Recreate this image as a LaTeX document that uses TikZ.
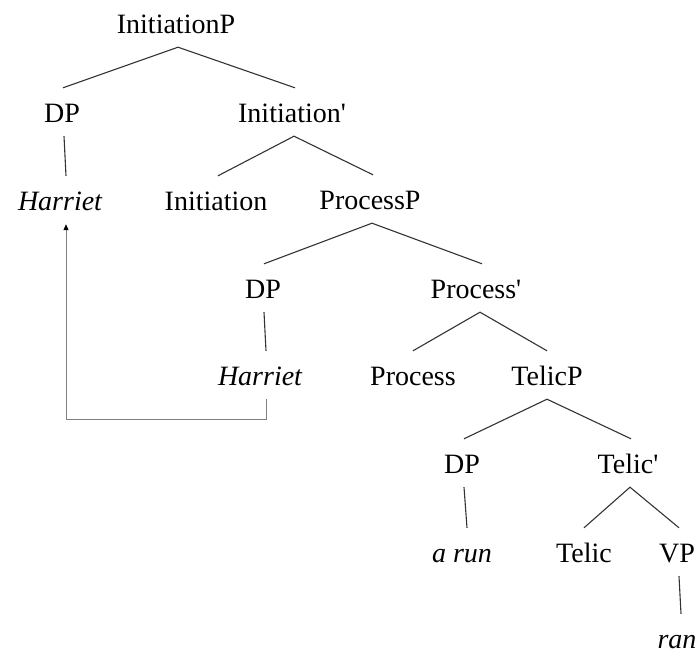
\documentclass[tikz,border=0pt]{standalone}
\usepackage{fontspec}
\setmainfont{Liberation Serif}
\usetikzlibrary{arrows.meta}
\begin{document}
\begin{tikzpicture}[x=1pt,y=-1pt,
  lbl/.style={anchor=base,inner xsep=0pt,inner ysep=8pt,text height=26pt,text depth=6pt,
    font=\fontsize{28}{32}\selectfont},
  br/.style={line width=1.1pt,draw=black!80},
  mv/.style={line width=1pt,draw=black!50,-{Triangle[length=6pt,width=5pt,color=black]}}]
\useasboundingbox (0,0) rectangle (699,653);
\node[lbl] (ip)    at (176,33)  {InitiationP};
\node[lbl] (dp1)   at (62,122)  {DP};
\node[lbl] (ib)    at (292,122) {Initiation\textquotesingle};
\node[lbl] (h1)    at (60,210)  {\itshape Harriet};
\node[lbl] (init)  at (216,210) {Initiation};
\node[lbl] (pp)    at (370,209) {ProcessP};
\node[lbl] (dp2)   at (263,298) {DP};
\node[lbl] (pb)    at (476,298) {Process\textquotesingle};
\node[lbl] (h2)    at (260,385) {\itshape Harriet};
\node[lbl] (proc)  at (413,385) {Process};
\node[lbl] (tp)    at (547,385) {TelicP};
\node[lbl] (dp3)   at (462,473) {DP};
\node[lbl] (tb)    at (628,473) {Telic\textquotesingle};
\node[lbl] (arun)  at (462,562) {\itshape a run};
\node[lbl] (telic) at (584,562) {Telic};
\node[lbl] (vp)    at (677,562) {VP};
\node[lbl] (ran)   at (677,648) {\itshape ran};

\draw[br] ([xshift=1pt]dp1.north) -- ([xshift=2pt]ip.south) -- ([xshift=3pt]ib.north);
\draw[br] ([xshift=2pt]dp1.south) -- ([xshift=6pt]h1.north);
\draw[br] ([xshift=2pt]init.north) -- ([xshift=2pt]ib.south) -- ([xshift=3pt]pp.north);
\draw[br] ([xshift=1pt]dp2.north) -- ([xshift=2pt]pp.south) -- ([xshift=6pt]pb.north);
\draw[br] ([xshift=1pt]dp2.south) -- ([xshift=6pt]h2.north);
\draw[br] (proc.north) -- ([xshift=4pt]pb.south) -- (tp.north);
\draw[br] ([xshift=2pt]dp3.north) -- (tp.south) -- ([xshift=3pt]tb.north);
\draw[br] ([xshift=2pt]dp3.south) -- ([xshift=5pt]arun.north);
\draw[br] (telic.north) -- ([xshift=2pt]tb.south) -- ([xshift=2pt]vp.north);
\draw[br] ([xshift=2pt]vp.south) -- ([xshift=4pt]ran.north);

\draw[mv] ([xshift=6pt]h2.south) -- ++(0,20) -| ([xshift=6pt]h1.south);
\end{tikzpicture}
\end{document}
